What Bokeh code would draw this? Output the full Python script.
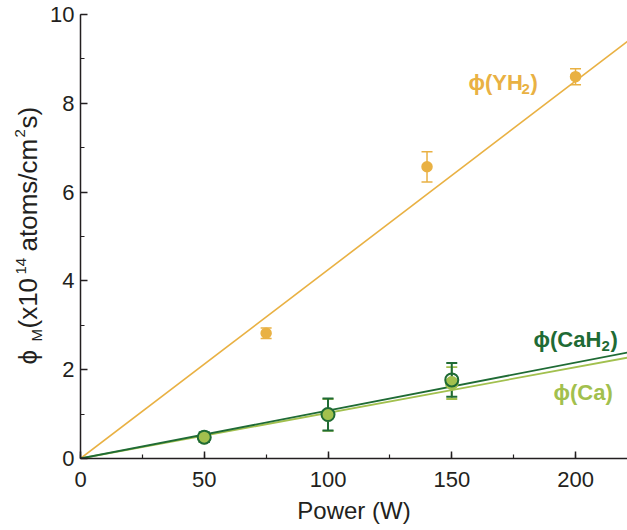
import math
from bokeh.plotting import figure
from bokeh.layouts import row
from bokeh.models import (ColumnDataSource, Range1d, SingleIntervalTicker, Whisker,
                          TeeHead, Label)
from bokeh.core.properties import value
from bokeh.embed import file_html
from bokeh.resources import INLINE

# ---------------- data ----------------
power_yh2 = [75, 140, 200]
flux_yh2 = [2.82, 6.57, 8.60]
err_yh2 = [0.12, 0.34, 0.18]

power_ca = [50, 100, 150]
flux_ca = [0.47, 0.98, 1.70]
err_ca = [0.10, 0.36, 0.36]

power_cah2 = [50, 100, 150]
flux_cah2 = [0.48, 0.99, 1.77]
err_cah2 = [0.11, 0.36, 0.38]

# linear fits through the origin (slopes)
fit_power = [0, 221]
slope_yh2 = 0.0425
slope_cah2 = 0.0108
slope_ca = 0.01028

x_ticks_interval = 50
y_ticks_interval = 2

# ---------------- styles ----------------
C_YH2 = "#E9B143"
C_CAH2 = "#1F6B35"
C_CA = "#A2C04E"
C_AX = "#231F20"
FONT = "Liberation Sans"

X_MAX = 221
Y_MAX = 10

LBL_W = 46          # width of the strip that carries the rotated y label
W, H = 627, 530
FL, FR, FT, FB = 80.0, 627.0, 14.0, 458.0   # frame edges (page px)

p = figure(width=W - LBL_W, height=H, output_backend="svg", toolbar_location=None,
           x_range=Range1d(0, X_MAX), y_range=Range1d(0, Y_MAX),
           min_border_left=int(FL) - LBL_W, min_border_right=0,
           min_border_top=int(FT), min_border_bottom=H - int(FB))
p.outline_line_color = None
p.xgrid.visible = False
p.ygrid.visible = False

PXX = (FR - FL) / X_MAX
PXY = (FB - FT) / Y_MAX


def dx(px):
    return (px - FL) / PXX


def dy(py):
    return (FB - py) / PXY


for ax, interval in ((p.xaxis[0], x_ticks_interval), (p.yaxis[0], y_ticks_interval)):
    ax.ticker = SingleIntervalTicker(interval=interval, num_minor_ticks=2)
    ax.axis_line_color = C_AX
    ax.axis_line_width = 1.5
    ax.major_tick_line_color = C_AX
    ax.major_tick_line_width = 1.5
    ax.minor_tick_line_color = C_AX
    ax.minor_tick_line_width = 1.2
    ax.major_tick_in = 7
    ax.major_tick_out = 0
    ax.minor_tick_in = 4
    ax.minor_tick_out = 0
    ax.major_label_text_font = FONT
    ax.major_label_text_font_size = "22px"
    ax.major_label_text_color = C_AX
    ax.axis_label_text_font = FONT
    ax.axis_label_text_font_style = "normal"
    ax.axis_label_text_color = C_AX

p.xaxis.axis_label = "Power (W)"
p.xaxis.axis_label_text_font_size = "24px"
p.xaxis.major_label_standoff = 13
p.xaxis.axis_label_standoff = 7
p.yaxis.major_label_standoff = 6

# ---------------- fit lines ----------------
p.line(fit_power, [slope_yh2 * x for x in fit_power], line_color=C_YH2, line_width=1.6)
p.line(fit_power, [slope_ca * x for x in fit_power], line_color=C_CA, line_width=1.8)
p.line(fit_power, [slope_cah2 * x for x in fit_power], line_color=C_CAH2, line_width=1.8)


def add_series(px, fy, er, color, size, fill, lw):
    src = ColumnDataSource(dict(x=px, y=fy,
                                lo=[a - b for a, b in zip(fy, er)],
                                hi=[a + b for a, b in zip(fy, er)]))
    w = Whisker(source=src, base="x", upper="hi", lower="lo",
                line_color=color, line_width=lw,
                upper_head=TeeHead(size=11, line_color=color, line_width=lw),
                lower_head=TeeHead(size=11, line_color=color, line_width=lw))
    p.add_layout(w)
    p.scatter("x", "y", source=src, size=size, fill_color=fill,
              line_color=color, line_width=lw)


add_series(power_yh2, flux_yh2, err_yh2, C_YH2, 10, C_YH2, 1.5)
add_series(power_ca, flux_ca, err_ca, C_CA, 12, C_CA, 1.8)
add_series(power_cah2, flux_cah2, err_cah2, C_CAH2, 13, None, 2.0)

# ---------------- series labels (piecewise for the subscript; y = text centre) ----------------
series_labels = [
    (C_YH2, [("ϕ(YH", 468, 82, "22px"), ("2", 521, 88, "15px"), (")", 530, 82, "22px")]),
    (C_CAH2, [("ϕ(CaH", 533, 339, "22px"), ("2", 601, 345, "15px"), (")", 610, 339, "22px")]),
    (C_CA, [("ϕ(Ca)", 553, 392, "22px")]),
]
for col, pieces in series_labels:
    for txt, lx, ly, fs in pieces:
        p.add_layout(Label(x=dx(lx), y=dy(ly), text=txt, text_color=col,
                           text_font=FONT, text_font_style="bold",
                           text_font_size=fs, text_align="left",
                           text_baseline="middle"))

# ---------------- y-axis label strip (rotated, with sub/superscripts) ----------------
# same top/bottom borders as the main plot, so its frame spans page y FT..FB;
# y runs upward here: y = H - page_y ; x is the centre line of each piece
q = figure(width=LBL_W, height=H, output_backend="svg", toolbar_location=None,
           x_range=Range1d(0, LBL_W), y_range=Range1d(H - FB, H - FT),
           x_axis_type=None, y_axis_type=None,
           min_border_left=0, min_border_right=0,
           min_border_top=int(FT), min_border_bottom=H - int(FB))
q.outline_line_color = None
q.xgrid.visible = False
q.ygrid.visible = False

ylab_pieces = [("ϕ", 364, 27, "26px"),
               ("M", 341, 36, "15px"),
               ("(x10", 328, 27, "26px"),
               ("14", 274, 20, "15px"),
               ("atoms/cm", 251, 27, "26px"),
               ("2", 137, 19, "15px"),
               ("s)", 128, 27, "26px")]
for txt, py, cx, fs in ylab_pieces:
    q.text(x=[cx], y=[H - py], text=[txt], angle=math.pi / 2,
           text_color=C_AX, text_font=value(FONT), text_font_size=value(fs),
           text_align="left", text_baseline="middle")

layout = row(q, p, spacing=0)
open("out.html", "w").write(file_html(layout, INLINE))
